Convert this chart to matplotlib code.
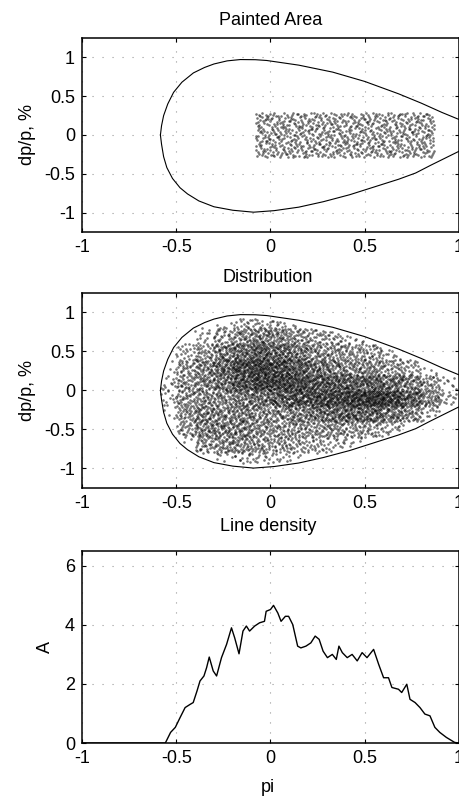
import matplotlib
matplotlib.use("Agg")
import matplotlib.pyplot as plt
import numpy as np

plt.rcParams['font.family'] = ['Liberation Sans', 'DejaVu Sans']
plt.rcParams['font.size'] = 13

# separatrix (bucket boundary)
sep_up_x = [-0.584, -0.578, -0.567, -0.545, -0.514, -0.47, -0.409, -0.35, -0.30, -0.23, -0.16, -0.08, -0.02,
            0.15, 0.33, 0.50, 0.68, 0.80, 0.91, 1.0, 1.18]
sep_up_y = [0.0, 0.12, 0.25, 0.40, 0.55, 0.68, 0.80, 0.87, 0.915, 0.955, 0.972, 0.97, 0.96,
            0.90, 0.81, 0.69, 0.53, 0.41, 0.29, 0.20, 0.0]
sep_lo_x = [-0.584, -0.578, -0.567, -0.55, -0.52, -0.48, -0.44, -0.38, -0.30, -0.20, -0.09, 0.02,
            0.15, 0.28, 0.42, 0.55, 0.68, 0.77, 0.85, 1.0, 1.18]
sep_lo_y = [0.0, -0.12, -0.28, -0.42, -0.56, -0.68, -0.76, -0.85, -0.925, -0.97, -0.995, -0.975,
            -0.93, -0.86, -0.77, -0.67, -0.57, -0.49, -0.39, -0.21, 0.0]

# painted area (uniformly filled rectangle)
paint_x = [-0.08, 0.87]
paint_y = [-0.29, 0.29]
paint_n = 800

# distribution: dot counts per cell
dens_x_edges = [-0.6, -0.5, -0.4, -0.3, -0.2, -0.1, 0.0, 0.1, 0.2, 0.3, 0.4, 0.5, 0.6, 0.7, 0.8, 0.9, 1.0]
dens_y_edges = [0.8, 0.6, 0.4, 0.2, 0.0, -0.2, -0.4, -0.6, -0.8, -1.0]  # lower edge of each row
dens_counts = [
    [0, 0, 0, 10, 20, 25, 20, 12, 0, 0, 0, 0, 0, 0, 0, 0],
    [0, 0, 15, 30, 45, 55, 50, 40, 30, 25, 15, 5, 0, 0, 0, 0],
    [0, 20, 35, 55, 70, 85, 75, 60, 45, 40, 35, 30, 15, 0, 0, 0],
    [5, 35, 50, 75, 100, 110, 100, 85, 65, 55, 45, 45, 35, 25, 5, 0],
    [15, 40, 50, 65, 90, 110, 110, 100, 90, 85, 80, 80, 65, 55, 35, 10],
    [15, 40, 45, 45, 60, 65, 80, 95, 100, 105, 115, 125, 110, 80, 50, 15],
    [5, 40, 55, 50, 55, 45, 45, 55, 65, 75, 80, 75, 60, 45, 20, 0],
    [0, 30, 55, 55, 55, 45, 40, 40, 40, 40, 35, 30, 20, 5, 0, 0],
    [0, 5, 35, 45, 45, 40, 35, 30, 25, 20, 12, 5, 0, 0, 0, 0],
    [0, 0, 0, 10, 20, 20, 15, 8, 0, 0, 0, 0, 0, 0, 0, 0],
]

# line density
ld_x = [-1.0, -0.558, -0.53, -0.505, -0.479, -0.453, -0.426, -0.41, -0.39, -0.374, -0.353, -0.339,
        -0.325, -0.304, -0.286, -0.26, -0.233, -0.207, -0.19, -0.167, -0.146, -0.128, -0.111,
        -0.084, -0.058, -0.032, -0.023, 0.0, 0.016, 0.039, 0.056, 0.079, 0.096, 0.118, 0.144,
        0.161, 0.188, 0.214, 0.237, 0.258, 0.279, 0.302, 0.328, 0.349, 0.363, 0.381, 0.407,
        0.433, 0.46, 0.486, 0.512, 0.547, 0.574, 0.6, 0.626, 0.644, 0.679, 0.696, 0.723, 0.74,
        0.767, 0.793, 0.819, 0.846, 0.872, 0.898, 0.933, 0.977, 1.0]
ld_y = [0.0, 0.0, 0.36, 0.53, 0.87, 1.2, 1.31, 1.37, 1.76, 2.1, 2.27, 2.55,
        2.91, 2.44, 2.27, 2.89, 3.34, 3.9, 3.56, 3.02, 3.79, 3.96, 3.79,
        3.96, 4.07, 4.12, 4.46, 4.52, 4.66, 4.4, 4.12, 4.29, 4.29, 4.01, 3.28,
        3.22, 3.28, 3.39, 3.62, 3.51, 3.11, 2.89, 3.0, 2.83, 3.28, 3.06, 2.89,
        3.0, 2.78, 3.06, 2.89, 3.17, 2.66, 2.21, 2.21, 1.88, 1.82, 1.71, 1.99, 1.48,
        1.37, 1.2, 0.98, 0.92, 0.53, 0.36, 0.19, 0.02, 0.0]

xticks = [-1, -0.5, 0, 0.5, 1]
xticklabels = ['-1', '-0.5', '0', '0.5', '1']
yticks_ph = [-1, -0.5, 0, 0.5, 1]
yticklabels_ph = ['-1', '-0.5', '0', '0.5', '1']
yticks_ld = [0, 2, 4, 6]


# spread n dots over a box with a Halton sequence (deterministic, no randomness)
def radical_inverse(k, base):
    out = np.zeros(len(k))
    f = 1.0 / base
    k = k.copy()
    while np.any(k > 0):
        out += f * (k % base)
        k //= base
        f /= base
    return out


counter = [1]


def fill_box(x0, x1, y0, y1, n):
    k = np.arange(counter[0], counter[0] + n)
    counter[0] += n
    u = radical_inverse(k, 2)
    v = radical_inverse(k, 3)
    return x0 + u * (x1 - x0), y0 + v * (y1 - y0)


def style(ax, yt, ytl, ylim):
    ax.set_xlim(-1, 1)
    ax.set_ylim(*ylim)
    ax.set_xticks(xticks)
    ax.set_xticklabels(xticklabels)
    ax.set_yticks(yt)
    ax.set_yticklabels(ytl)
    ax.tick_params(direction='in', top=True, right=True, length=3, width=0.8)
    ax.tick_params(axis='x', pad=5)
    ax.tick_params(axis='y', pad=5)
    ax.grid(True, color='0.6', linestyle=(0, (1, 8)), linewidth=0.8)
    for s in ax.spines.values():
        s.set_linewidth(1.1)


fig = plt.figure(figsize=(4.6, 7.98), dpi=100)
L, W = 82 / 460, 377 / 460

# painted area
ax1 = fig.add_axes([L, 0.7093, W, 0.2431])
ax1.plot(sep_up_x, sep_up_y, color='k', lw=0.8)
ax1.plot(sep_lo_x, sep_lo_y, color='k', lw=0.8)
px, py = fill_box(paint_x[0], paint_x[1], paint_y[0], paint_y[1], paint_n)
ax1.scatter(px, py, s=3.5, c='k', marker='o', linewidths=0, alpha=0.55)
style(ax1, yticks_ph, yticklabels_ph, (-1.25, 1.25))
ax1.set_ylabel('dp/p, %', labelpad=6)

# distribution
ax2 = fig.add_axes([L, 0.3885, W, 0.2444])
ax2.plot(sep_up_x, sep_up_y, color='k', lw=0.8)
ax2.plot(sep_lo_x, sep_lo_y, color='k', lw=0.8)
dx, dy = [], []
for r, row in enumerate(dens_counts):
    for c, n in enumerate(row):
        if n == 0:
            continue
        bx, by = fill_box(dens_x_edges[c], dens_x_edges[c + 1],
                          dens_y_edges[r], dens_y_edges[r] + 0.2, n)
        dx.append(bx)
        dy.append(by)
dx = np.concatenate(dx)
dy = np.concatenate(dy)
inside = (dy < np.interp(dx, sep_up_x, sep_up_y) - 0.05) & (dy > np.interp(dx, sep_lo_x, sep_lo_y) + 0.05)
ax2.scatter(dx[inside], dy[inside], s=3.5, c='k', marker='o', linewidths=0, alpha=0.55)
style(ax2, yticks_ph, yticklabels_ph, (-1.25, 1.25))
ax2.set_ylabel('dp/p, %', labelpad=6)

# line density
ax3 = fig.add_axes([L, 0.0689, W, 0.2406])
ax3.plot(ld_x, ld_y, color='k', lw=1.0)
style(ax3, yticks_ld, [str(t) for t in yticks_ld], (0, 6.5))
ax3.set_ylabel('A', labelpad=8)

fig.text(271 / 460, 1 - 25 / 798, 'Painted Area', ha='center', va='baseline')
fig.text(268 / 460, 1 - 282 / 798, 'Distribution', ha='center', va='baseline')
fig.text(268 / 460, 1 - 531 / 798, 'Line density', ha='center', va='baseline')
fig.text(268 / 460, 1 - 792 / 798, 'pi', ha='center', va='baseline')

fig.savefig('out.png', dpi=100)
